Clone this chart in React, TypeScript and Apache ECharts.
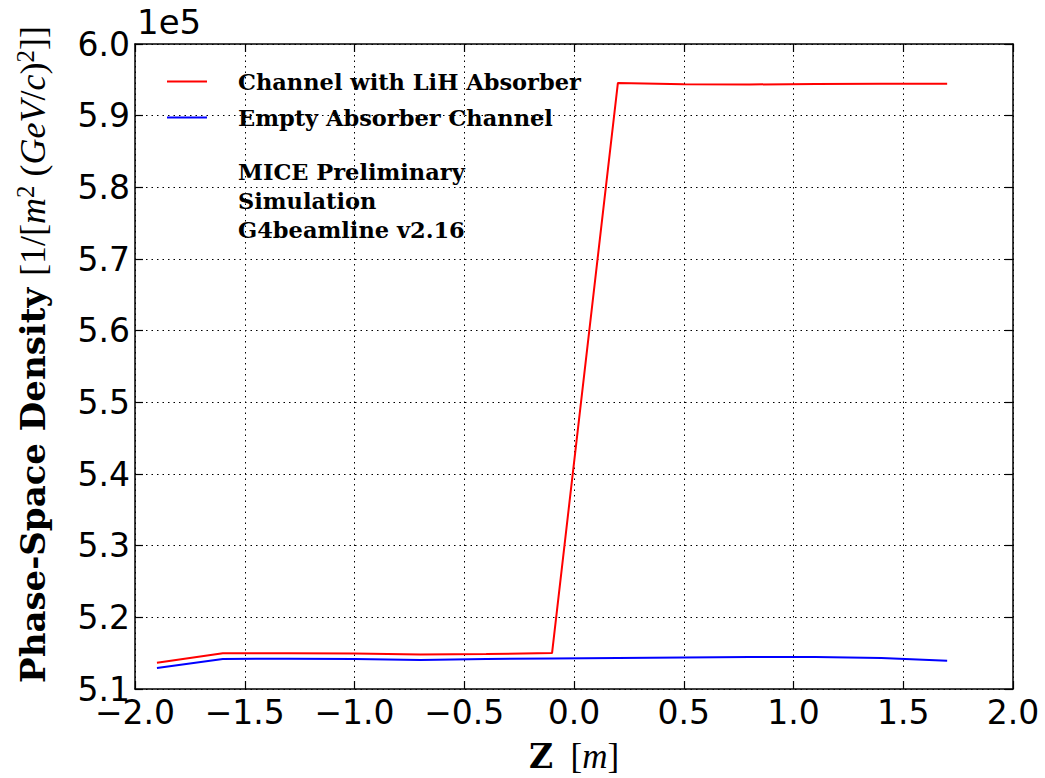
import React, { useEffect, useRef } from "react";
import * as echarts from "echarts";

const zPositions = [-1.9, -1.6, -1.3, -1.0, -0.7, -0.4, -0.1, 0.2, 0.5, 0.8, 1.1, 1.4, 1.7];
const lihValues = [
  513650, 514980, 514980, 514950, 514800, 514880, 515020,
  594570, 594400, 594350, 594430, 594470, 594470,
];
const emptyValues = [
  512930, 514200, 514220, 514200, 514040, 514200, 514270,
  514330, 514400, 514450, 514450, 514320, 513950,
];
const seriesNames = ["Channel with LiH Absorber", "Empty Absorber Channel"];
const annotationLines = ["MICE Preliminary", "Simulation", "G4beamline v2.16"];

const SANS = "DejaVu Sans";
const SERIF = "DejaVu Serif";
const MATH = "Liberation Serif";

export default function App() {
  const ref = useRef<HTMLDivElement>(null);
  useEffect(() => {
    if (!ref.current) return;
    const chart = echarts.init(ref.current, null, { renderer: "svg" });
    const fmtX = (v: number) => {
      const s = Math.abs(v).toFixed(1);
      return v < -1e-9 ? "\u2212" + s : s;
    };
    const axisLine = { show: true, onZero: false, lineStyle: { color: "#000", width: 1.5 } };
    const tick = { show: true, inside: true, length: 8, lineStyle: { color: "#000", width: 1.2 } };
    const split = { show: true, lineStyle: { color: "#000", width: 1, type: [1.5, 4] as any } };
    const pair = (a: number[]) => zPositions.map((z, i) => [z, a[i]]);
    chart.setOption({
      animation: false,
      backgroundColor: "#fff",
      grid: {
        left: 135,
        right: 32,
        top: 44,
        bottom: 89,
        containLabel: false,
        outerBoundsMode: "none",
      },
      legend: {
        show: true,
        orient: "vertical",
        left: 167,
        top: 70,
        padding: 0,
        itemWidth: 40,
        itemHeight: 2,
        itemGap: 13,
        icon: "rect",
        textStyle: {
          fontFamily: SERIF,
          fontWeight: "bold",
          fontSize: 22.5,
          color: "#000",
          padding: [0, 0, 0, 26],
        },
        data: seriesNames,
      },
      xAxis: [
        {
          type: "value",
          min: -2,
          max: 2,
          interval: 0.5,
          position: "bottom",
          axisLine,
          axisTick: tick,
          splitLine: split,
          axisLabel: { formatter: fmtX, fontFamily: SANS, fontSize: 33, color: "#000", margin: 7 },
          name: "{b|Z}{r|  [}{i|m}{r|]}",
          nameLocation: "middle",
          nameGap: 50,
          nameTextStyle: {
            lineHeight: 34,
            rich: {
              b: { fontFamily: SERIF, fontWeight: "bold", fontSize: 33, lineHeight: 34, color: "#000" },
              r: { fontFamily: MATH, fontSize: 35, lineHeight: 34, color: "#000" },
              i: { fontFamily: MATH, fontStyle: "italic", fontSize: 35, lineHeight: 34, color: "#000" },
            },
          },
        },
        {
          type: "value",
          min: -2,
          max: 2,
          interval: 0.5,
          position: "top",
          axisLine,
          axisTick: tick,
          splitLine: { show: false },
          axisLabel: { show: false },
        },
      ],
      yAxis: [
        {
          type: "value",
          min: 510000,
          max: 600000,
          interval: 10000,
          position: "left",
          axisLine,
          axisTick: tick,
          splitLine: split,
          axisLabel: {
            formatter: (v: number) => (v / 1e5).toFixed(1),
            fontFamily: SANS,
            fontSize: 33,
            color: "#000",
            margin: 5,
          },
          name:
            "{b|Phase-Space Density }{r|[1/[}{i|m}{s|2}{r| (}{i|GeV}{r|/}{i|c}{r|)}{s|2}{r|]]}",
          nameLocation: "middle",
          nameRotate: 90,
          nameGap: 83,
          nameTextStyle: {
            padding: [0, 0, 0, 24],
            rich: {
              b: { fontFamily: SERIF, fontWeight: "bold", fontSize: 34, color: "#000" },
              r: { fontFamily: MATH, fontSize: 36, color: "#000" },
              i: { fontFamily: MATH, fontStyle: "italic", fontSize: 36, color: "#000" },
              s: {
                fontFamily: MATH,
                fontSize: 25,
                color: "#000",
                verticalAlign: "top",
                padding: [0, 0, 14, 0],
              },
            },
          },
        },
        {
          type: "value",
          min: 510000,
          max: 600000,
          interval: 10000,
          position: "right",
          axisLine,
          axisTick: tick,
          splitLine: { show: false },
          axisLabel: { show: false },
        },
      ],
      graphic: [
        {
          type: "text",
          left: 137,
          top: 5,
          style: { text: "1e5", fontFamily: SANS, fontSize: 34, fill: "#000" },
        },
        {
          type: "text",
          left: 238,
          top: 157,
          style: {
            text: annotationLines.join("\n"),
            fontFamily: SERIF,
            fontWeight: "bold",
            fontSize: 22.5,
            lineHeight: 29,
            fill: "#000",
          },
        },
      ],
      series: [
        {
          name: seriesNames[0],
          type: "line",
          data: pair(lihValues),
          showSymbol: false,
          symbol: "none",
          lineStyle: { color: "#ff0000", width: 2 },
          itemStyle: { color: "#ff0000" },
        },
        {
          name: seriesNames[1],
          type: "line",
          data: pair(emptyValues),
          showSymbol: false,
          symbol: "none",
          lineStyle: { color: "#0000ff", width: 2 },
          itemStyle: { color: "#0000ff" },
        },
      ],
    });
    return () => chart.dispose();
  }, []);
  return (
    <div
      ref={ref}
      style={{ position: "fixed", left: 0, top: 0, width: 1045, height: 778, background: "#fff" }}
    />
  );
}
